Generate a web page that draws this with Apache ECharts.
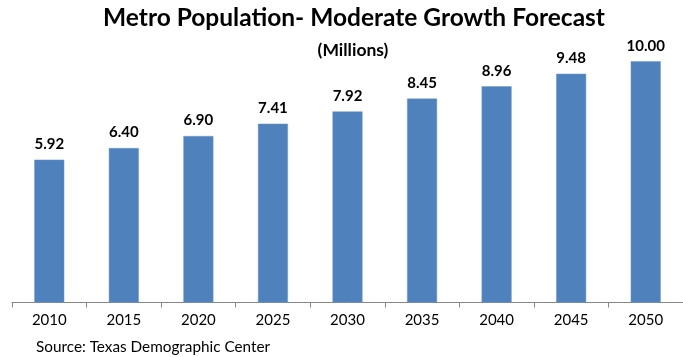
<!DOCTYPE html>
<html>
<head>
<meta charset="utf-8">
<style>
  html, body { margin: 0; padding: 0; background: #ffffff; }
  #chart { width: 683px; height: 357px; }
</style>
<script src="https://cdn.jsdelivr.net/npm/echarts@6/dist/echarts.min.js"></script>
</head>
<body>
<div id="chart"></div>
<script>
// Forecast years and metro population (millions)
const years = ['2010', '2015', '2020', '2025', '2030', '2035', '2040', '2045', '2050'];
const population = [5.92, 6.40, 6.90, 7.41, 7.92, 8.45, 8.96, 9.48, 10.00];

const titleText = 'Metro Population- Moderate Growth Forecast';
const unitText = '(Millions)';
const sourceText = 'Source: Texas Demographic Center';

const FONT = 'Lato, "Open Sans", sans-serif';
const BAR_BLUE = '#4F81BD';

const chart = echarts.init(document.getElementById('chart'), null, { renderer: 'canvas' });

chart.setOption({
  animation: false,
  backgroundColor: '#ffffff',
  title: [
    {
      text: titleText,
      left: 354,
      top: 6,
      textAlign: 'center',
      padding: 0,
      textStyle: { fontFamily: FONT, fontWeight: 'bold', fontSize: 24.5, color: '#000000' }
    },
    {
      text: unitText,
      left: 353,
      top: 41,
      textAlign: 'center',
      padding: 0,
      textStyle: { fontFamily: FONT, fontWeight: 'bold', fontSize: 17.5, color: '#000000' }
    },
    {
      text: sourceText,
      left: 36,
      top: 340,
      padding: 0,
      textStyle: { fontFamily: FONT, fontWeight: 'normal', fontSize: 15.3, color: '#000000' }
    }
  ],
  grid: {
    left: 12,
    right: -10.75,
    top: 61.2,
    bottom: 54.5,
    containLabel: false
  },
  xAxis: {
    type: 'category',
    data: years,
    axisLine: { show: true, lineStyle: { color: '#868686', width: 1 } },
    axisTick: { show: true, length: 5, lineStyle: { color: '#868686' } },
    axisLabel: {
      margin: 10,
      fontFamily: FONT,
      fontSize: 15,
      color: '#000000'
    }
  },
  yAxis: {
    type: 'value',
    min: 0,
    max: 10,
    show: false,
    splitLine: { show: false }
  },
  series: [
    {
      type: 'bar',
      data: population,
      barWidth: 30,
      itemStyle: { color: BAR_BLUE, borderColor: '#6f98c9', borderWidth: 0.5 },
      label: {
        show: true,
        position: 'top',
        distance: 8,
        formatter: p => p.value.toFixed(2),
        fontFamily: FONT,
        fontWeight: 'bold',
        fontSize: 15,
        color: '#000000'
      }
    }
  ]
});
</script>
</body>
</html>
